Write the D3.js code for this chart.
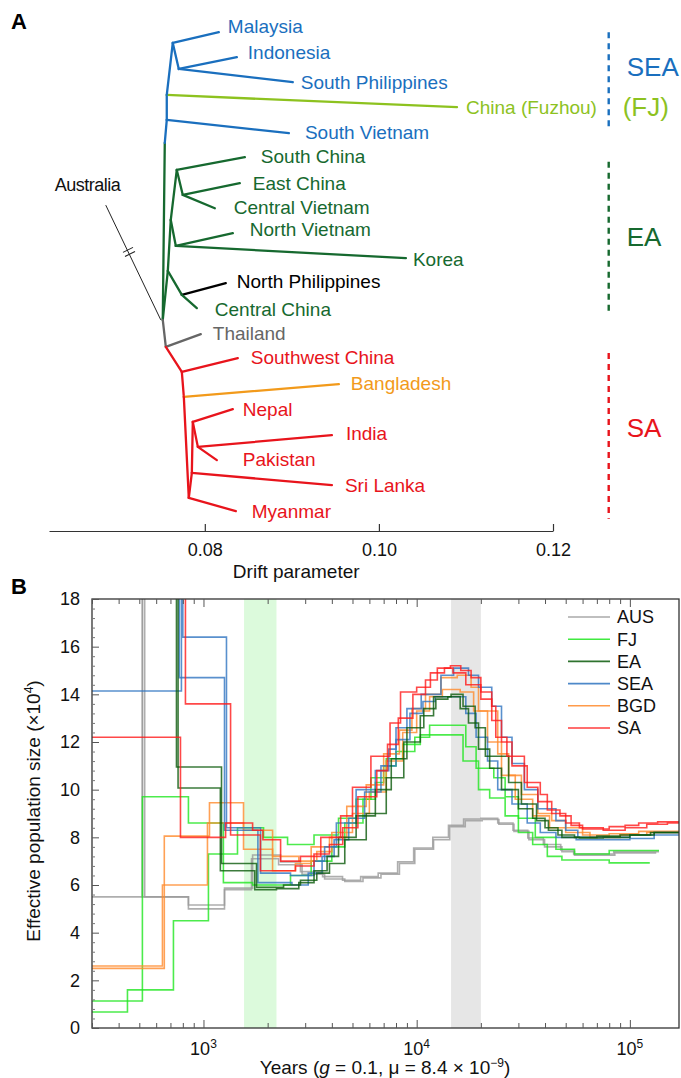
<!DOCTYPE html>
<html><head><meta charset="utf-8">
<script src="https://cdn.jsdelivr.net/npm/d3@7"></script>
<style>
body{margin:0;background:#fff}
svg{display:block;font-family:"Liberation Sans",Arial,Helvetica,sans-serif}
</style>
</head><body>
<svg id="chart" width="681" height="1078"></svg>
<script>
// ================= PANEL A DATA (TreeMix tree) =================
// node: drift (x) and vertical layout position (0..100, top -> bottom)
const treeNodes = [
  ["root",0.07517,58.8],["ausTip",0.06862,36.3],
  ["TS",0.07552,64.1],["thaiTip",0.07954,61.6],
  ["SAn",0.07736,69.0],["swcTip",0.08379,66.3],
  ["BGDn",0.07759,73.9],["bgdTip",0.09540,71.4],
  ["Mn",0.07816,93.7],["myaTip",0.08356,96.3],
  ["SLn",0.07851,88.8],["slTip",0.09460,91.2],
  ["NEn",0.07862,78.8],["nepTip",0.08322,76.3],
  ["IPn",0.07920,83.7],["indTip",0.09460,81.4],["pakTip",0.08138,86.3],
  ["EAr",0.07575,49.2],["NPCC",0.07736,53.9],["npTip",0.08241,51.6],["ccTip",0.07908,56.5],
  ["EA2",0.07609,39.2],["NVK",0.07667,44.3],["nvTip",0.08322,41.8],["korTip",0.10310,46.7],
  ["SCn",0.07678,29.4],["scTip",0.08460,26.9],["ECn",0.07747,34.3],["ecTip",0.08402,32.0],["cvTip",0.08115,36.9],
  ["SEAj",0.07540,24.1],["SVn",0.07563,19.6],["svTip",0.08966,22.2],
  ["FJn",0.07563,14.7],["fjTip",0.10897,17.1],
  ["MIn",0.07632,4.5],["malTip",0.08161,2.4],["ISP",0.07701,9.6],["indoTip",0.08368,7.3],["spTip",0.09011,12.2]
];
// edges: parent, child, group
const treeEdges = [
  ["root","SEAj","EA"],["SEAj","SVn","SEA"],["SVn","svTip","SEA"],["SVn","FJn","SEA"],
  ["FJn","fjTip","FJ"],["FJn","MIn","SEA"],["MIn","malTip","SEA"],["MIn","ISP","SEA"],
  ["ISP","indoTip","SEA"],["ISP","spTip","SEA"],
  ["root","EAr","EA"],["EAr","NPCC","EA"],["NPCC","npTip","NP"],["NPCC","ccTip","EA"],
  ["EAr","EA2","EA"],["EA2","NVK","EA"],["NVK","nvTip","EA"],["NVK","korTip","EA"],
  ["EA2","SCn","EA"],["SCn","scTip","EA"],["SCn","ECn","EA"],["ECn","ecTip","EA"],["ECn","cvTip","EA"],
  ["root","TS","TH"],["TS","thaiTip","TH"],["TS","SAn","SA"],["SAn","swcTip","SA"],
  ["SAn","BGDn","SA"],["BGDn","bgdTip","BGD"],["BGDn","Mn","SA"],["Mn","myaTip","SA"],
  ["Mn","SLn","SA"],["SLn","slTip","SA"],["SLn","NEn","SA"],["NEn","nepTip","SA"],
  ["NEn","IPn","SA"],["IPn","indTip","SA"],["IPn","pakTip","SA"]
];
const leafLabels = [
  ["malTip","Malaysia","SEA"],["indoTip","Indonesia","SEA"],["spTip","South Philippines","SEA"],
  ["fjTip","China (Fuzhou)","FJ"],["svTip","South Vietnam","SEA"],
  ["scTip","South China","EA"],["ecTip","East China","EA"],["cvTip","Central Vietnam","EA"],
  ["nvTip","North Vietnam","EA"],["korTip","Korea","EA"],["npTip","North Philippines","NP"],
  ["ccTip","Central China","EA"],["thaiTip","Thailand","TH"],["swcTip","Southwest China","SA"],
  ["bgdTip","Bangladesh","BGD"],["nepTip","Nepal","SA"],["indTip","India","SA"],
  ["pakTip","Pakistan","SA"],["slTip","Sri Lanka","SA"],["myaTip","Myanmar","SA"]
];
const outgroup = ["root","ausTip","Australia"];
// clade brackets: label, group, start pos, end pos, label pos
const clades = [
  ["SEA","SEA",2.4,21.6,9.2],["(FJ)","FJ",null,null,17.1],
  ["EA","EA",27.8,57.3,42.5],["SA","SA",65.3,97.8,80.0]
];
const bracketDrift = 0.1264;
const driftTicks = [0.08,0.10,0.12];
const driftDomain = [0.0621,0.12];

// ================= PANEL B DATA (PSMC) =================
const xTickMajors = [1e3,1e4,1e5];
const yTicks = [0,2,4,6,8,10,12,14,16,18];
const bands = [[1550,2200,"#dcfadc"],[14500,20000,"#e6e6e6"]];
const groups = ["AUS","FJ","EA","SEA","BGD","SA"];

// each series: [time (years), Ne x10^4] steps, value holds until next time; last entry = end
const AUS_1 = [[300,5.5],[517,40],[530,5.5],[850,5.16],[1255,5.87],[1700,7.26],[2300,6.97],[2850,6.56],[3620,6.35],[4490,6.2],[5460,6.35],[6600,6.5],[8140,6.97],[9680,7.55],[11900,8.0],[14100,8.5],[16600,8.77],[20000,8.8],[24000,8.6],[28300,8.3],[33200,7.97],[39300,7.7],[47400,7.47],[54500,7.3],[84000,7.4],[137000,7.4]];
const AUS_2 = [[300,40],[517,5.5],[850,5.0],[1255,5.8],[1680,7.1],[2250,6.85],[2900,6.45],[3700,6.25],[4600,6.15],[5600,6.3],[6800,6.45],[8300,6.9],[9800,7.5],[12000,7.9],[14300,8.45],[16900,8.7],[20300,8.75],[24300,8.55],[28600,8.25],[33600,7.9],[39800,7.6],[48000,7.4],[55000,7.25],[85000,7.35],[133000,7.35]];
const FJ_1 = [[300,1.13],[517,9.7],[850,8.6],[1240,6.1],[1700,6.0],[2560,6.4],[3200,7.0],[4000,7.6],[4600,8.6],[5600,9.6],[6400,10.3],[7000,11.0],[8000,11.6],[9800,12.2],[11500,12.7],[17000,11.8],[19000,10.9],[23000,10.5],[26000,9.7],[30000,8.8],[36000,8.0],[45000,7.5],[55000,7.3],[80000,7.45],[137000,7.45]];
const FJ_2 = [[300,0.67],[440,1.6],[723,4.5],[1055,7.3],[1444,8.4],[1913,8.0],[2480,7.7],[3300,8.1],[4300,8.8],[5200,9.6],[6100,10.5],[7200,11.3],[8600,11.9],[10400,12.3],[16500,11.2],[19500,10.0],[22000,9.65],[26000,8.9],[30000,8.2],[35000,7.7],[41000,7.2],[48000,7.05],[80000,6.93],[124000,6.93]];
const EA_1 = [[300,40],[747,10.95],[1215,6.9],[1774,5.9],[2375,6.0],[2850,6.2],[3400,6.5],[3900,6.9],[4600,7.9],[5800,9.0],[7200,10.5],[8700,12.0],[10400,13.1],[12000,13.9],[14500,14.0],[16500,13.5],[18800,12.6],[21000,11.4],[27000,10.3],[31000,9.4],[36500,8.7],[41500,8.3],[48000,8.0],[58000,7.97],[75000,8.0],[100000,8.1],[125000,8.2],[170000,8.2]];
const EA_2 = [[300,40],[760,10.07],[1200,6.6],[1740,5.8],[2200,5.85],[2800,6.1],[3300,6.6],[3800,7.2],[4300,8.0],[5200,8.9],[6400,10.0],[7600,11.3],[9000,12.6],[10800,13.4],[12300,13.8],[14000,13.9],[16000,13.4],[17500,12.8],[19500,11.7],[22000,10.9],[25000,10.0],[30000,9.2],[35000,8.8],[40000,8.4],[46000,8.1],[55000,8.0],[70000,8.05],[90000,8.1],[130000,8.2],[170000,8.2]];
const SEA_1 = [[300,14.14],[788,40],[800,16.4],[1282,8.4],[1852,6.5],[2560,6.4],[3300,7.0],[3700,7.6],[4200,8.6],[5200,10.0],[6400,10.8],[7400,11.7],[8000,12.6],[9000,13.4],[10500,14.0],[13000,14.8],[14900,15.1],[17500,14.8],[19500,14.3],[22500,13.5],[25000,12.2],[28000,11.1],[32000,10.0],[37000,9.2],[45000,8.7],[50000,8.3],[57000,8.0],[100000,8.1],[130000,8.2],[170000,8.2]];
const SEA_2 = [[300,40],[770,14.7],[1255,8.3],[1800,6.1],[2600,6.0],[3100,6.5],[3600,7.2],[4100,7.9],[4800,8.8],[5700,9.9],[6800,11.0],[8000,12.1],[9300,13.2],[10700,13.7],[12200,13.9],[15000,13.9],[17000,13.2],[19000,12.2],[21500,11.2],[24000,10.0],[28000,9.4],[33000,8.6],[38000,8.2],[45000,8.0],[56000,7.9],[100000,7.95],[130000,8.1],[170000,8.1]];
const BGD_1 = [[300,2.6],[642,6.0],[1044,8.6],[1541,8.3],[2109,6.6],[2700,6.9],[3200,7.6],[3900,8.0],[4700,9.3],[5800,10.2],[7000,11.5],[8300,12.5],[9500,13.4],[11000,14.0],[13000,14.7],[15500,14.8],[18000,14.3],[19500,13.3],[24000,11.5],[27000,10.6],[31000,9.8],[37000,9.0],[43000,8.7],[50000,8.4],[60000,8.1],[80000,8.15],[110000,8.25],[170000,8.25]];
const BGD_2 = [[300,2.5],[655,8.05],[1067,9.45],[1541,7.5],[2109,7.2],[2800,7.0],[3400,7.4],[4000,8.2],[5000,9.0],[6000,9.9],[7200,11.2],[8600,12.4],[10000,13.3],[11500,13.9],[13200,14.2],[16000,14.1],[18500,13.3],[21500,12.0],[25000,10.6],[29000,9.6],[35000,8.9],[42000,8.4],[50000,8.2],[65000,8.0],[90000,8.1],[120000,8.2],[170000,8.2]];
const SA_1 = [[300,12.2],[780,8.0],[1270,8.6],[1700,8.3],[1900,7.9],[2300,7.0],[2850,7.2],[3550,8.0],[4400,8.9],[5000,10.1],[6100,11.4],[7500,12.8],[8400,14.1],[10000,14.3],[11600,14.9],[13500,15.1],[14400,15.2],[16100,15.0],[18000,14.7],[20000,14.1],[22500,13.5],[23500,12.2],[26500,11.4],[32000,10.3],[38000,9.8],[41000,9.15],[47000,8.9],[53000,8.5],[60000,8.35],[80000,8.45],[95000,8.5],[110000,8.6],[135000,8.65],[170000,8.65]];
const SA_2 = [[300,40],[823,13.6],[1340,8.1],[1850,6.6],[2700,6.8],[3300,7.3],[3900,7.7],[4500,8.4],[5300,9.7],[6500,10.8],[7300,11.9],[8200,13.0],[9600,14.0],[11000,14.6],[12500,15.1],[14800,14.9],[17000,14.4],[20000,13.8],[22500,12.9],[25000,12.0],[28000,11.0],[33000,10.1],[37000,9.5],[43000,9.0],[50000,8.6],[58000,8.4],[75000,8.3],[95000,8.4],[120000,8.55],[150000,8.6],[170000,8.6]];

const seriesList = [
  ["AUS",AUS_1],["AUS",AUS_2],["FJ",FJ_1],["FJ",FJ_2],["BGD",BGD_1],["BGD",BGD_2],
  ["SEA",SEA_1],["SEA",SEA_2],["EA",EA_1],["EA",EA_2],["SA",SA_1],["SA",SA_2]
];

// ================= STYLES =================
const treeColor = {SEA:"#1a6fbe",FJ:"#8dc21f",EA:"#16692f",NP:"#000000",TH:"#666666",SA:"#e8141c",BGD:"#f29a1b"};
const psmcColor = {AUS:"#9a9a9a",FJ:"#1fe61f",EA:"#0b5a0b",SEA:"#2f74c0",BGD:"#ff8a2a",SA:"#ff1a1a"};
// label nudges (px) relative to leaf tips
const labelNudge = {malTip:[9,-6],indoTip:[11,-5],spTip:[8,0],fjTip:[9,0],svTip:[16,-1],scTip:[16,-1],
  ecTip:[13,0],cvTip:[19,-1],nvTip:[17,-4],korTip:[7,1],npTip:[11,-2],ccTip:[18,1],thaiTip:[12,-1],
  swcTip:[13,-1],bgdTip:[12,-1],nepTip:[10,0],indTip:[14,-2],pakTip:[26,-1],slTip:[13,0],myaTip:[16,0]};

const svg = d3.select("#chart");

// ---------- PANEL A ----------
const xA = d3.scaleLinear().domain(driftDomain).range([49,553]);
const yA = d3.scaleLinear().domain([0,100]).range([20,530]);
const node = new Map(treeNodes.map(d=>[d[0],{x:xA(d[1]),y:yA(d[2])}]));

const gA = svg.append("g");
// outgroup (Australia) thin line with break marks
{
  const a = node.get(outgroup[0]), b = node.get(outgroup[1]);
  gA.append("line").attr("x1",a.x-2).attr("y1",a.y).attr("x2",b.x).attr("y2",b.y)
    .attr("stroke","#222").attr("stroke-width",1);
  const dx=b.x-a.x, dy=b.y-a.y;
  [0.575,0.61].forEach(s=>{
    const cx=a.x+dx*s, cy=a.y+dy*s;
    gA.append("line").attr("x1",cx-5).attr("y1",cy+2.5).attr("x2",cx+5).attr("y2",cy-2.5)
      .attr("stroke","#222").attr("stroke-width",1.1);
  });
  gA.append("text").attr("x",b.x-51).attr("y",b.y-20).attr("dy","0.35em")
    .attr("font-size",18).attr("letter-spacing",-0.5).attr("fill","#111").text(outgroup[2]);
}
gA.selectAll("line.edge").data(treeEdges).join("line").attr("class","edge")
  .attr("x1",d=>node.get(d[0]).x).attr("y1",d=>node.get(d[0]).y)
  .attr("x2",d=>node.get(d[1]).x).attr("y2",d=>node.get(d[1]).y)
  .attr("stroke",d=>treeColor[d[2]]).attr("stroke-width",2.3).attr("stroke-linecap","round");

gA.selectAll("text.leaf").data(leafLabels).join("text").attr("class","leaf")
  .attr("x",d=>node.get(d[0]).x+labelNudge[d[0]][0])
  .attr("y",d=>node.get(d[0]).y+labelNudge[d[0]][1])
  .attr("dy","0.35em").attr("font-size",19).attr("fill",d=>treeColor[d[2]]).text(d=>d[1]);

clades.forEach(c=>{
  const x = xA(bracketDrift);
  if(c[2]!==null){
    gA.append("line").attr("x1",x).attr("x2",x).attr("y1",yA(c[2])).attr("y2",yA(c[3]))
      .attr("stroke",treeColor[c[1]]).attr("stroke-width",2.4).attr("stroke-dasharray","6,5");
  }
  gA.append("text").attr("x",x+(c[0]==="(FJ)"?14:18)).attr("y",yA(c[4])).attr("dy","0.35em")
    .attr("font-size",26).attr("fill",treeColor[c[1]]).text(c[0]);
});

const axA = d3.axisBottom(xA).tickValues(driftTicks).tickFormat(d3.format(".2f")).tickSize(-7).tickSizeOuter(0).tickPadding(12);
const gAx = svg.append("g").attr("transform","translate(0,531)").call(axA);
gAx.select(".domain").attr("stroke","#333").attr("stroke-width",1.2);
gAx.selectAll(".tick line").attr("stroke","#333").attr("stroke-width",1.2);
gAx.selectAll(".tick text").attr("font-size",18).attr("font-family","Liberation Sans, Arial").attr("fill","#111");
svg.append("text").attr("x",xA(0.0905)).attr("y",578).attr("text-anchor","middle")
  .attr("font-size",19).attr("fill","#111").text("Drift parameter");

svg.append("text").attr("x",11).attr("y",29).attr("font-size",22).attr("font-weight","bold").text("A");
svg.append("text").attr("x",11).attr("y",594).attr("font-size",22).attr("font-weight","bold").text("B");

// ---------- PANEL B ----------
const xB = d3.scaleLog().domain([300,170000]).range([92,679]);
const yB = d3.scaleLinear().domain([0,18]).range([1028,599]);
const gB = svg.append("g");
gB.append("clipPath").attr("id","clipB").append("rect")
  .attr("x",92).attr("y",599).attr("width",587).attr("height",429);

bands.forEach(b=>{
  gB.append("rect").attr("x",xB(b[0])).attr("y",599).attr("width",xB(b[1])-xB(b[0]))
    .attr("height",429).attr("fill",b[2]);
});

const line = d3.line().x(d=>xB(d[0])).y(d=>yB(d[1])).curve(d3.curveStepAfter);
const gLines = gB.append("g").attr("clip-path","url(#clipB)");
seriesList.forEach(s=>{
  gLines.append("path").attr("d",line(s[1])).attr("fill","none")
    .attr("stroke",psmcColor[s[0]]).attr("stroke-width",1.6).attr("stroke-opacity",0.8);
});

// frame
gB.append("rect").attr("x",92).attr("y",599).attr("width",587).attr("height",429)
  .attr("fill","none").attr("stroke","#333").attr("stroke-width",1.3);

// minor log ticks
const logMinor = [];
[100,1000,10000,100000].forEach(dec=>{for(let k=1;k<10;k++){const v=dec*k; if(v>=300&&v<=170000) logMinor.push(v);}});
const isMajor = v=>xTickMajors.includes(v);
const xAxisB = d3.axisBottom(xB).tickValues(logMinor).tickFormat("").tickSize(-5).tickSizeOuter(0);
const gxb = gB.append("g").attr("transform","translate(0,1028)").call(xAxisB);
gxb.selectAll(".tick line").attr("y2",d=>isMajor(d)?-8:-5).attr("stroke","#555");
gxb.select(".domain").remove();
const xTopB = d3.axisTop(xB).tickValues(logMinor).tickFormat("").tickSize(-5).tickSizeOuter(0);
const gxt = gB.append("g").attr("transform","translate(0,599)").call(xTopB);
gxt.selectAll(".tick line").attr("y2",d=>isMajor(d)?8:5).attr("stroke","#555");
gxt.select(".domain").remove();

xTickMajors.forEach(v=>{
  const t = gB.append("text").attr("x",xB(v)).attr("y",1055).attr("text-anchor","middle")
    .attr("font-size",18).attr("fill","#111");
  t.append("tspan").text("10");
  t.append("tspan").attr("dy",-7).attr("font-size",12).text(String(Math.round(Math.log10(v))));
});

const yAxisB = d3.axisLeft(yB).tickValues(yTicks).tickSize(-7).tickSizeOuter(0).tickPadding(12);
const gyb = gB.append("g").attr("transform","translate(92,0)").call(yAxisB);
gyb.select(".domain").remove();
gyb.selectAll(".tick line").attr("stroke","#555");
gyb.selectAll(".tick text").attr("font-size",18).attr("fill","#111").attr("font-family","Liberation Sans, Arial");
const yMinor = d3.range(0,18.01,0.4).filter(v=>Math.abs(v/2-Math.round(v/2))>1e-6);
const gym = gB.append("g").attr("transform","translate(92,0)")
  .call(d3.axisLeft(yB).tickValues(yMinor).tickFormat("").tickSize(-3).tickSizeOuter(0));
gym.select(".domain").remove();
gym.selectAll(".tick line").attr("stroke","#777");

// axis titles
{
  const t = svg.append("text").attr("transform","translate(40,811) rotate(-90)")
    .attr("text-anchor","middle").attr("font-size",19).attr("fill","#111");
  t.append("tspan").text("Effective population size (\u00d710");
  t.append("tspan").attr("dy",-7).attr("font-size",12).text("4");
  t.append("tspan").attr("dy",7).text(")");
}
{
  const t = svg.append("text").attr("x",385).attr("y",1074).attr("text-anchor","middle")
    .attr("font-size",19).attr("fill","#111");
  t.append("tspan").text("Years (");
  t.append("tspan").attr("font-style","italic").text("g");
  t.append("tspan").text(" = 0.1, \u03bc = 8.4 \u00d7 10");
  t.append("tspan").attr("dy",-7).attr("font-size",12).text("\u22129");
  t.append("tspan").attr("dy",7).text(")");
}

// legend
const lg = gB.append("g");
groups.forEach((g,i)=>{
  const y = 617 + i*22.2;
  lg.append("line").attr("x1",568).attr("x2",610).attr("y1",y).attr("y2",y)
    .attr("stroke",psmcColor[g]).attr("stroke-width",1.6).attr("stroke-opacity",0.85);
  lg.append("text").attr("x",617).attr("y",y).attr("dy","0.35em").attr("font-size",18)
    .attr("fill","#111").text(g);
});
</script>
</body></html>
